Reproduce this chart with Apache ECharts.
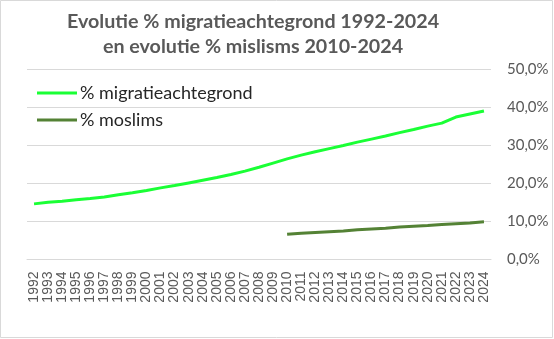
<!DOCTYPE html>
<html>
<head>
<meta charset="utf-8">
<script src="https://cdn.jsdelivr.net/npm/echarts@6/dist/echarts.min.js"></script>
<style>html,body{margin:0;padding:0;background:#fff;}#c{width:554px;height:339px;}</style>
</head>
<body>
<div id="c"></div>
<script>
const years = ['1992','1993','1994','1995','1996','1997','1998','1999','2000','2001','2002','2003','2004','2005','2006','2007','2008','2009','2010','2011','2012','2013','2014','2015','2016','2017','2018','2019','2020','2021','2022','2023','2024'];
const migratie = [14.6,15.0,15.3,15.7,16.0,16.4,17.0,17.5,18.1,18.8,19.4,20.1,20.8,21.5,22.3,23.2,24.2,25.3,26.4,27.4,28.3,29.1,29.9,30.8,31.6,32.4,33.3,34.1,35.0,35.8,37.4,38.2,39.0];
const moslims = [null,null,null,null,null,null,null,null,null,null,null,null,null,null,null,null,null,null,6.6,6.9,7.1,7.3,7.5,7.8,8.0,8.2,8.5,8.7,8.9,9.2,9.4,9.6,9.9];
const titleLines = ['Evolutie % migratieachtegrond 1992-2024','en evolutie % mislisms 2010-2024'];
const seriesNames = ['% migratieachtegrond','% moslims'];

const chart = echarts.init(document.getElementById('c'), null, {renderer:'canvas'});
chart.setOption({
  animation:false,
  backgroundColor:'#fff',
  graphic:[
    {type:'rect', shape:{x:0.5,y:0.5,width:552,height:337}, style:{fill:null, stroke:'#d9d9d9', lineWidth:1}, silent:true},
    {type:'text', x:253, y:12, style:{text:titleLines[0], align:'center', fill:'#595959', font:'bold 19.7px Lato'}},
    {type:'text', x:253, y:37, style:{text:titleLines[1], align:'center', fill:'#595959', font:'bold 19.7px Lato'}}
  ],
  grid:{left:27, right:63, top:69, bottom:79.5, containLabel:false},
  legend:{
    orient:'vertical', left:37, top:83, padding:0, itemWidth:40, itemHeight:3, itemGap:7,
    icon:'rect',
    textStyle:{fontFamily:'Lato', fontSize:18, color:'#262626', padding:[0,0,0,-2], lineHeight:20},
    data:seriesNames
  },
  xAxis:{
    type:'category', data:years, boundaryGap:true,
    axisLine:{show:true, lineStyle:{color:'#d9d9d9', width:1}},
    axisTick:{show:false},
    axisLabel:{rotate:90, interval:0, margin:12, fontFamily:'Liberation Sans', fontSize:14, color:'#595959'}
  },
  yAxis:{
    type:'value', position:'right', min:0, max:50, interval:10,
    axisLine:{show:false}, axisTick:{show:false},
    splitLine:{lineStyle:{color:'#d9d9d9', width:1}},
    axisLabel:{margin:16, fontFamily:'Lato', fontSize:15, color:'#595959',
      formatter:v=>v.toFixed(1).replace('.',',')+'%'}
  },
  series:[
    {name:seriesNames[0], type:'line', data:migratie, showSymbol:false, symbol:'none', lineStyle:{color:'#1aff35', width:3}, itemStyle:{color:'#1aff35'}},
    {name:seriesNames[1], type:'line', data:moslims, showSymbol:false, symbol:'none', lineStyle:{color:'#548235', width:3}, itemStyle:{color:'#548235'}}
  ]
});
</script>
</body>
</html>
